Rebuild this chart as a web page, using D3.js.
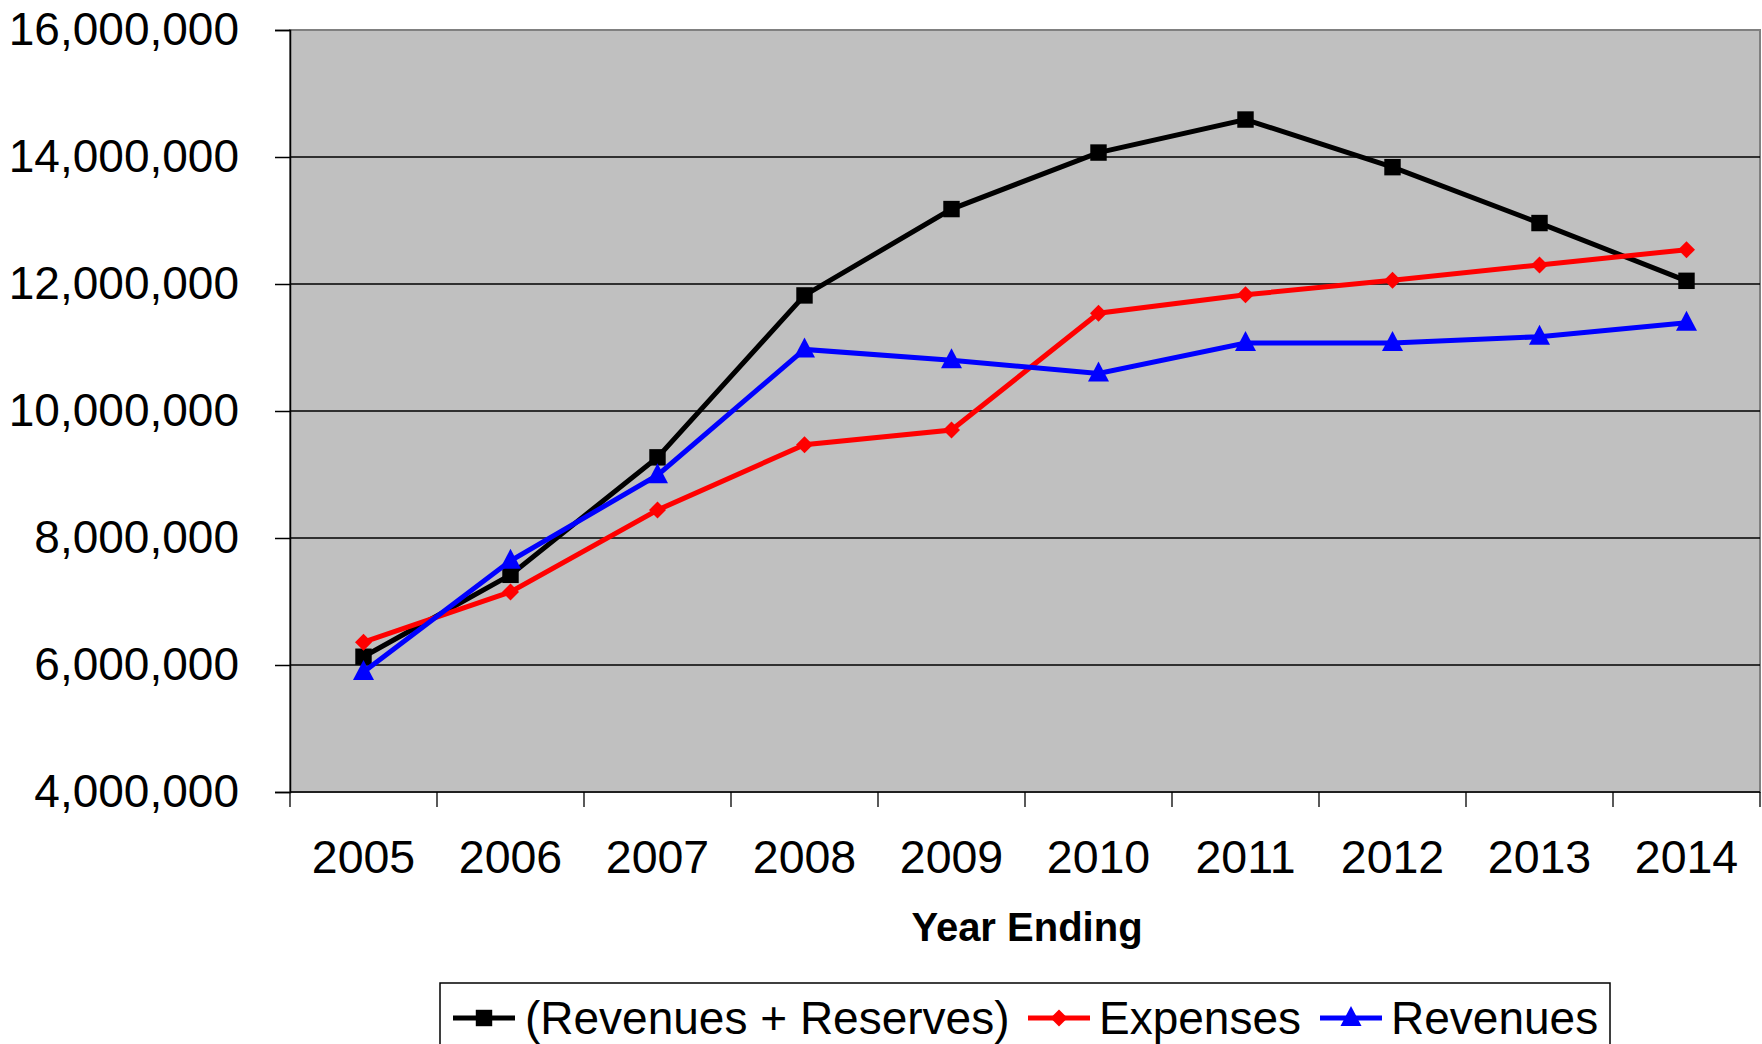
<!DOCTYPE html>
<html>
<head>
<meta charset="utf-8">
<script src="https://cdn.jsdelivr.net/npm/d3@7"></script>
<style>
  html, body { margin: 0; padding: 0; background: #ffffff; }
  svg { display: block; }
  text { font-family: "Liberation Sans", Arial, sans-serif; fill: #000; }
</style>
</head>
<body>
<svg id="chart" width="1762" height="1044"></svg>
<script>
// Fiscal years shown on the category axis
const years = ["2005", "2006", "2007", "2008", "2009", "2010", "2011", "2012", "2013", "2014"];

// Series values (dollars)
const revenuesPlusReserves = [6130000, 7420000, 9270000, 11820000, 13180000, 14070000, 14590000, 13840000, 12960000, 12050000];
const expenses = [6360000, 7150000, 8440000, 9470000, 9700000, 11540000, 11830000, 12060000, 12300000, 12540000];
const revenues = [5890000, 7640000, 8990000, 10970000, 10800000, 10590000, 11070000, 11070000, 11170000, 11390000];

// Value-axis ticks
const yTicks = [4000000, 6000000, 8000000, 10000000, 12000000, 14000000, 16000000];

const seriesNames = ["(Revenues + Reserves)", "Expenses", "Revenues"];

const series = [
  { name: seriesNames[0], values: revenuesPlusReserves, color: "#000000", marker: "square" },
  { name: seriesNames[1], values: expenses, color: "#ff0000", marker: "diamond" },
  { name: seriesNames[2], values: revenues, color: "#0000ff", marker: "triangle" }
];

const svg = d3.select("#chart");
const plot = { left: 290, right: 1760, top: 30, bottom: 792 };

const x = d3.scaleBand().domain(years).range([plot.left, plot.right]).padding(0);
const y = d3.scaleLinear().domain([4000000, 16000000]).range([plot.bottom, plot.top]);

// Plot area background
svg.append("rect")
  .attr("x", plot.left).attr("y", plot.top)
  .attr("width", plot.right - plot.left).attr("height", plot.bottom - plot.top)
  .attr("fill", "#c0c0c0")
  .attr("stroke", "#808080").attr("stroke-width", 2);

// Horizontal gridlines
svg.append("g").selectAll("line")
  .data(yTicks.filter(t => t > 4000000 && t < 16000000))
  .join("line")
  .attr("x1", plot.left).attr("x2", plot.right)
  .attr("y1", d => y(d)).attr("y2", d => y(d))
  .attr("stroke", "#000").attr("stroke-width", 1.3);

// Value axis
const yAxis = d3.axisLeft(y)
  .tickValues(yTicks)
  .tickSize(15)
  .tickPadding(36)
  .tickFormat(d3.format(","));
const gy = svg.append("g").attr("transform", `translate(${plot.left},0)`).call(yAxis);
gy.select(".domain").attr("stroke", "#000").attr("stroke-width", 1.5);
gy.selectAll(".tick line").attr("stroke", "#000").attr("stroke-width", 1.5);
gy.selectAll(".tick text")
  .style("font-family", '"Liberation Sans", Arial, sans-serif')
  .style("font-size", "46px").attr("fill", "#000");

// Category axis: ticks at band boundaries, labels at band centres
const gx = svg.append("g").attr("transform", `translate(0,${plot.bottom})`);
gx.append("line")
  .attr("x1", plot.left).attr("x2", plot.right)
  .attr("stroke", "#000").attr("stroke-width", 1.5);
const boundaries = years.map(d => x(d)).concat([plot.right]);
gx.selectAll("line.tk").data(boundaries).join("line")
  .attr("class", "tk")
  .attr("x1", d => d).attr("x2", d => d)
  .attr("y1", 0).attr("y2", 15)
  .attr("stroke", "#000").attr("stroke-width", 1.3);
gx.selectAll("text").data(years).join("text")
  .attr("x", d => x(d) + x.bandwidth() / 2)
  .attr("y", 81)
  .attr("text-anchor", "middle")
  .style("font-size", "46.5px")
  .text(d => d);

// Axis title
svg.append("text")
  .attr("x", (plot.left + plot.right) / 2 + 2)
  .attr("y", 941)
  .attr("text-anchor", "middle")
  .style("font-size", "40px")
  .style("font-weight", "bold")
  .text("Year Ending");

// Marker shapes
function markerPath(type) {
  if (type === "square") return d3.symbol(d3.symbolSquare, 270)();
  if (type === "diamond") return "M0,-8.5L8.5,0L0,8.5L-8.5,0Z";
  return "M0,-12L10.5,8L-10.5,8Z";
}

const line = d3.line()
  .x((d, i) => x(years[i]) + x.bandwidth() / 2)
  .y(d => y(d));

const gSeries = svg.append("g");
series.forEach(s => {
  const g = gSeries.append("g");
  g.append("path")
    .attr("d", line(s.values))
    .attr("fill", "none")
    .attr("stroke", s.color)
    .attr("stroke-width", 5)
    .attr("stroke-linejoin", "miter");
  g.selectAll("path.mk").data(s.values).join("path")
    .attr("class", "mk")
    .attr("transform", (d, i) => `translate(${x(years[i]) + x.bandwidth() / 2},${y(d)})`)
    .attr("d", markerPath(s.marker))
    .attr("fill", s.color);
});

// Legend
const legend = svg.append("g");
legend.append("rect")
  .attr("x", 440).attr("y", 983)
  .attr("width", 1170).attr("height", 80)
  .attr("fill", "#fff")
  .attr("stroke", "#000").attr("stroke-width", 1.5);

const legendPos = [
  { lx: 453, tx: 525 },
  { lx: 1028, tx: 1099 },
  { lx: 1320, tx: 1391 }
];
series.forEach((s, i) => {
  const p = legendPos[i];
  const cy = 1018;
  legend.append("line")
    .attr("x1", p.lx).attr("x2", p.lx + 62)
    .attr("y1", cy).attr("y2", cy)
    .attr("stroke", s.color).attr("stroke-width", 5);
  legend.append("path")
    .attr("transform", `translate(${p.lx + 31},${cy})`)
    .attr("d", markerPath(s.marker))
    .attr("fill", s.color);
  legend.append("text")
    .attr("x", p.tx).attr("y", cy + 16)
    .style("font-size", "46px")
    .text(s.name);
});
</script>
</body>
</html>
